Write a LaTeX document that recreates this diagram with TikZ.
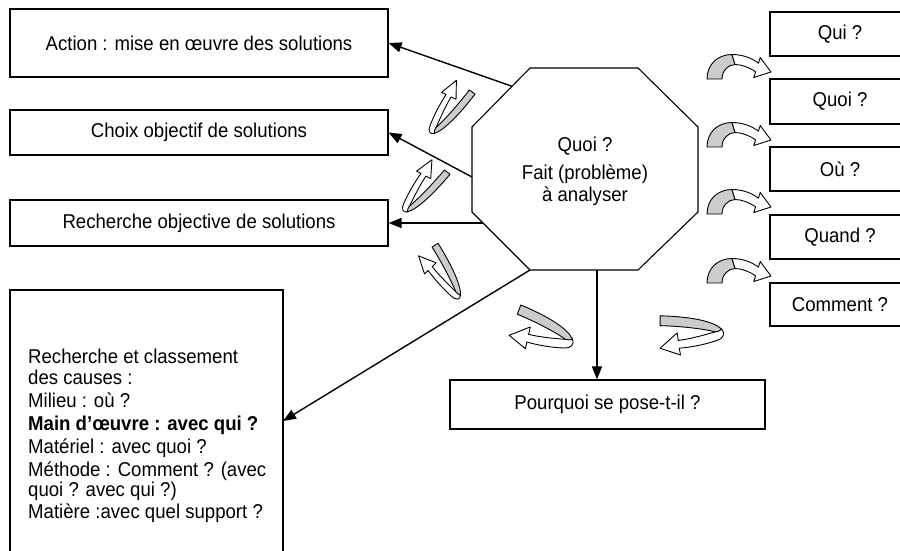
\documentclass[tikz,border=0pt]{standalone}
\usepackage{fontspec}
\setmainfont{Liberation Sans}[FakeStretch=0.93]
\usetikzlibrary{arrows.meta}
\begin{document}
\begin{tikzpicture}[x=1pt,y=1pt,
  every node/.style={font=\fontsize{20}{23}\selectfont, inner sep=0pt},
  box/.style={draw, line width=1.1pt},
  conn/.style={line width=1.4pt, -{Triangle[length=13pt,width=10pt]}},
  rib/.style={line width=0.9pt, line join=round},
  uturn/.pic={
    \filldraw[rib, fill=white] (0,-3) .. controls (-4,0) and (-1,4) .. (4,5)
      .. controls (15,8) and (28,10) .. (38.5,10.6) -- (37.5,15.5) -- (56,10.7)
      -- (40.5,-0.3) -- (39.5,5.1) .. controls (28,4) and (15,1) .. (6,-1) -- cycle;
    \filldraw[rib, fill=gray!40] (56,-5.5) -- (56,-12.5)
      .. controls (30,-12) and (8,-9) .. (0,-3)
      .. controls (2,-1.5) and (4,-1) .. (6,-1)
      .. controls (15,-3) and (35,-5) .. cycle;
  },
  curvr/.pic={
    \filldraw[rib, fill=gray!40] (0,0) .. controls (0,14) and (10,24.5) .. (25,24.5)
      -- (28,14.5) .. controls (21,14.5) and (15,8) .. (15,0) -- cycle;
    \filldraw[rib, fill=white] (25,24.5) .. controls (37,24.5) and (46,20) .. (51.4,15.8)
      -- (53.2,21.5) -- (64,7) -- (46.8,1.5) -- (48.6,7.2)
      .. controls (42,11.5) and (35,14.5) .. (28,14.5) -- cycle;
  }]
\useasboundingbox (0,0) rectangle (900,-550);

% left boxes
\node[box, minimum width=378pt, minimum height=68pt] (action) at (199,-43) {Action : mise en œuvre des solutions};
\node[box, minimum width=378pt, minimum height=45pt] (choix) at (199,-132.5) {Choix objectif de solutions};
\node[box, minimum width=378pt, minimum height=46pt] (rech) at (199,-223) {Recherche objective de solutions};

% big causes box
\node[box, minimum width=273pt, minimum height=270pt] (causes) at (146.5,-425) {};
\node[anchor=base west] (c1) at (28,-363.5) {Recherche et classement};
\node[anchor=base west] (c2) at (28,-384.5) {des causes :};
\node[anchor=base west] (c3) at (28,-407.5) {Milieu : où ?};
\node[anchor=base west] (c4) at (28,-430.5) {\bfseries Main d’œuvre : avec qui ?};
\node[anchor=base west] (c5) at (28,-453) {Matériel : avec quoi ?};
\node[anchor=base west] (c6) at (28,-476) {Méthode : Comment ? (avec};
\node[anchor=base west] (c7) at (28,-496) {quoi ? avec qui ?)};
\node[anchor=base west] (c8) at (28,-518.5) {Matière :avec quel support ?};

% right boxes
\node[box, minimum width=140pt, minimum height=44pt] (qui) at (840,-34) {Qui ?};
\node[box, minimum width=140pt, minimum height=45pt] (quoi) at (840,-101.5) {Quoi ?};
\node[box, minimum width=140pt, minimum height=44pt] (ou) at (840,-169) {Où ?};
\node[box, minimum width=140pt, minimum height=44pt] (quand) at (840,-237) {Quand ?};
\node[box, minimum width=140pt, minimum height=43pt] (comment) at (840,-304.5) {Comment ?};

% pourquoi box
\node[box, minimum width=315pt, minimum height=49pt] (pq) at (607.5,-404.5) {Pourquoi se pose-t-il ?};

% octagon
\coordinate (o1) at (530,-68);
\coordinate (o2) at (638,-68);
\coordinate (o3) at (698,-127);
\coordinate (o4) at (698,-212);
\coordinate (o5) at (638,-270);
\coordinate (o6) at (530,-270);
\coordinate (o7) at (472,-212);
\coordinate (o8) at (472,-127);
\draw[line width=1.1pt, line join=miter] (o1) -- (o2) -- (o3) -- (o4) -- (o5) -- (o6) -- (o7) -- (o8) -- cycle;
\node[anchor=base] (q1) at (585,-151.7) {Quoi ?};
\node[anchor=base] (q2) at (585,-179) {Fait (problème)};
\node[anchor=base] (q3) at (585,-201.7) {à analyser};

% connector start points on the octagon
\coordinate (s1) at (512,-86.3);
\coordinate (s2) at (472,-177);
\coordinate (s3) at (483,-223);
\coordinate (s5) at (597,-270);
\coordinate (t4) at (283,-421);

\draw[conn] (s1) -- (action.east);
\draw[conn] (s2) -- (choix.east);
\draw[conn] (s3) -- (rech.east);
\draw[conn] (o6) -- (t4);
\draw[conn] (s5) -- (s5 |- pq.north);

% u-turn ribbon arrows
\pic[rotate=53.5] at (431.7,-131.7) {uturn};
\pic[rotate=51] at (405,-210) {uturn};
\pic[rotate=123] at (458,-297) {uturn};
\pic[rotate=159, xscale=1.08, yscale=1.4] at (571,-343) {uturn};
\pic[rotate=180, xscale=1.1, yscale=1.4] at (721.7,-333.3) {uturn};

% curved right arrows
\pic at (707,-79) {curvr};
\pic at (707,-147) {curvr};
\pic at (707,-214) {curvr};
\pic at (707,-283) {curvr};
\end{tikzpicture}
\end{document}
